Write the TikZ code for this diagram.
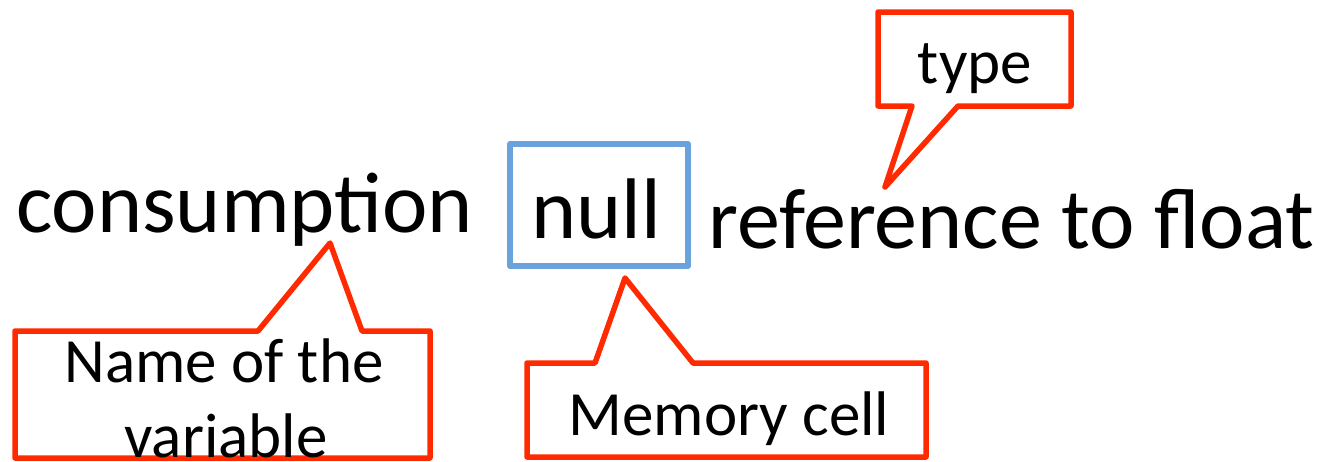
\documentclass[tikz,border=0pt]{standalone}
\usepackage{fontspec}
\setmainfont{Carlito}
\definecolor{calloutred}{HTML}{FF2A00}
\definecolor{cellblue}{HTML}{6AA2DC}
\begin{document}
\begin{tikzpicture}[x=1pt,y=-1pt,
  bigtext/.style={inner sep=0pt,anchor=base west,font=\fontsize{86}{100}\selectfont},
  notetext/.style={inner sep=0pt,anchor=base,font=\fontsize{63}{75}\selectfont},
  callout/.style={draw=calloutred,line width=5.5pt,line join=round,fill=white},
  cellbox/.style={draw=cellblue,line width=6pt,line join=round}]
\useasboundingbox (0,0) rectangle (1321,461);
\clip (0,0) rectangle (1321,461);

% the declaration: name, memory cell, type
\node[bigtext] (varname) at (16,232) {consumption};
\draw[cellbox] (510,144) rectangle (688,266);
\node[bigtext] (cell) at (531,238) {null};
\node[bigtext] (vartype) at (708,248) {reference to float};

% callout tips
\coordinate (tipname) at (330,243);
\coordinate (tipcell) at (625,278);
\coordinate (tiptype) at (885,187);

% callout: name of the variable
\draw[callout] (15,331) -- (258,331) -- (tipname) -- (362,331) -- (430,331)
  -- (430,458) -- (15,458) -- cycle;
\node[notetext] (namea) at (224,382) {Name of the};
\node[notetext] (nameb) at (226,457) {variable};

% callout: memory cell
\draw[callout] (527,363) -- (595,363) -- (tipcell) -- (693,363) -- (926,363)
  -- (926,457) -- (527,457) -- cycle;
\node[notetext] (cellnote) at (729,435) {Memory cell};

% callout: type
\draw[callout] (878,12) -- (1071,12) -- (1071,106) -- (958,106) -- (tiptype)
  -- (912,106) -- (878,106) -- cycle;
\node[notetext] (typenote) at (975,83) {type};
\end{tikzpicture}
\end{document}
